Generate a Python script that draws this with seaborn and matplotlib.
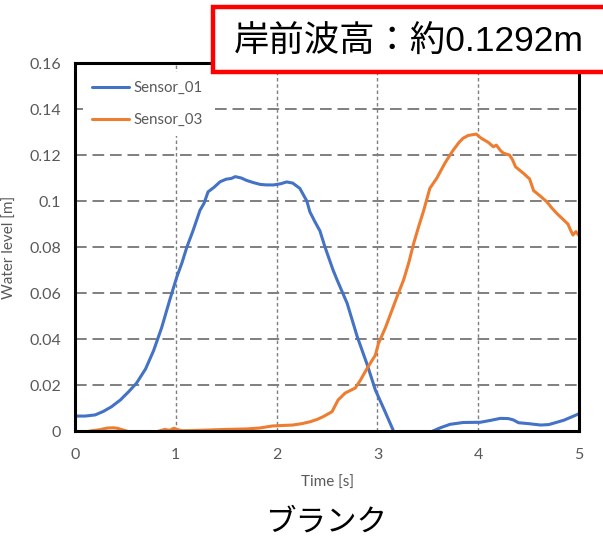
import pandas as pd
import matplotlib
matplotlib.use("Agg")
import matplotlib.pyplot as plt
from matplotlib.patches import Rectangle
import seaborn as sns

# values
t_s01 = [0, 0.1, 0.2, 0.28, 0.36, 0.45, 0.53, 0.61, 0.7, 0.78, 0.86, 0.94, 1.01, 1.06, 1.11,
         1.17, 1.24, 1.28, 1.32, 1.38, 1.44, 1.5, 1.55, 1.59, 1.65, 1.70, 1.77, 1.84, 1.9, 1.97,
         2.04, 2.10, 2.16, 2.23, 2.30, 2.33, 2.38, 2.43, 2.48, 2.56, 2.60, 2.70, 2.80, 2.90, 2.98,
         3.06, 3.16, 3.25, 3.35, 3.45, 3.55, 3.63, 3.72, 3.85, 4.02, 4.12, 4.22, 4.30, 4.35, 4.40,
         4.50, 4.62, 4.70, 4.78, 4.85, 4.92, 5.0]
v_s01 = [0.0065, 0.0065, 0.007, 0.0085, 0.0105, 0.0135, 0.017, 0.0208, 0.027, 0.035, 0.045,
         0.057, 0.067, 0.073, 0.080, 0.087, 0.096, 0.099, 0.104, 0.106, 0.1084, 0.1095, 0.1098,
         0.1106, 0.110, 0.109, 0.108, 0.1072, 0.107, 0.107, 0.1075, 0.1083, 0.1078, 0.1055, 0.100,
         0.0953, 0.091, 0.087, 0.080, 0.070, 0.0657, 0.0555, 0.041, 0.0287, 0.0178, 0.010, 0.0,
         -0.004, -0.006, -0.004, 0.0, 0.0015, 0.0029, 0.0037, 0.0038, 0.0046, 0.0055, 0.0054,
         0.0048, 0.0036, 0.0032, 0.0026, 0.0028, 0.0038, 0.0047, 0.006, 0.0075]

t_s03 = [0, 0.1, 0.15, 0.25, 0.32, 0.38, 0.42, 0.48, 0.55, 0.7, 0.82, 0.89, 0.94, 0.98, 1.02,
         1.06, 1.15, 1.3, 1.5, 1.7, 1.83, 1.96, 2.06, 2.16, 2.25, 2.33, 2.40, 2.46, 2.55, 2.61,
         2.68, 2.78, 2.83, 2.90, 2.98, 3.01, 3.08, 3.14, 3.20, 3.26, 3.31, 3.36, 3.41, 3.46, 3.52,
         3.59, 3.67, 3.75, 3.81, 3.85, 3.90, 3.98, 4.03, 4.10, 4.15, 4.18, 4.22, 4.25, 4.31, 4.34,
         4.37, 4.45, 4.51, 4.55, 4.62, 4.68, 4.73, 4.78, 4.89, 4.92, 4.94, 4.97, 5.0]
v_s03 = [-0.002, -0.0005, 0.0, 0.0006, 0.0013, 0.0014, 0.0012, 0.0004, -0.0005, -0.001, -0.0002,
         0.0007, 0.0003, 0.0012, 0.0006, 0.0001, 0.0002, 0.0004, 0.0007, 0.0009, 0.0013, 0.0022,
         0.0024, 0.0026, 0.0032, 0.004, 0.005, 0.0062, 0.0084, 0.0135, 0.0165, 0.0187, 0.022,
         0.0274, 0.033, 0.038, 0.045, 0.052, 0.059, 0.0657, 0.073, 0.0816, 0.089, 0.096, 0.1055,
         0.110, 0.1165, 0.122, 0.1255, 0.1273, 0.1285, 0.1291, 0.1273, 0.1255, 0.1236, 0.1243,
         0.122, 0.1208, 0.120, 0.118, 0.1149, 0.112, 0.1096, 0.1045, 0.102, 0.0997, 0.097, 0.0946,
         0.090, 0.087, 0.0852, 0.0867, 0.085]

x_ticks = [0, 1, 2, 3, 4, 5]
y_ticks = [0, 0.02, 0.04, 0.06, 0.08, 0.1, 0.12, 0.14, 0.16]
y_tick_labels = ["0", "0.02", "0.04", "0.06", "0.08", "0.1", "0.12", "0.14", "0.16"]

series_names = ["Sensor_01", "Sensor_03"]
series_colors = ["#4472C4", "#ED7D31"]
title_text = "岸前波高：約0.1292m"
caption_text = "ブランク"

sns.set_theme(style="white")
plt.rcParams["font.family"] = ["Lato", "DejaVu Sans"]

df = pd.concat([
    pd.DataFrame({"time": t_s01, "level": v_s01, "sensor": series_names[0]}),
    pd.DataFrame({"time": t_s03, "level": v_s03, "sensor": series_names[1]}),
], ignore_index=True)

fig = plt.figure(figsize=(6.03, 5.41), dpi=100)
ax = fig.add_axes([0.1244, 0.2033, 0.8358, 0.6802])

sns.lineplot(data=df, x="time", y="level", hue="sensor", hue_order=series_names,
             palette=series_colors, estimator=None, sort=False, linewidth=2.2, ax=ax)

ax.set_xlim(0, 5)
ax.set_ylim(0, 0.16)
ax.set_xticks(x_ticks)
ax.set_xticklabels([str(x) for x in x_ticks])
ax.set_yticks(y_ticks)
ax.set_yticklabels(y_tick_labels)
ax.tick_params(axis="both", length=0, labelsize=11.5, labelcolor="#595959")
ax.tick_params(axis="x", pad=12)
ax.tick_params(axis="y", pad=10)

ax.set_xlabel("Time [s]", fontsize=11, color="#595959", labelpad=10)
ax.set_ylabel("Water level [m]", fontsize=11, color="#595959", labelpad=9)

# excel style dashed grid
ax.yaxis.grid(True, color="#7f7f7f", linewidth=1.4, linestyle=(0, (6, 3)))
ax.xaxis.grid(True, color="#7f7f7f", linewidth=1.0, linestyle=(0, (2.5, 2)))
ax.set_axisbelow(True)
for s in ax.spines.values():
    s.set_color("black")
    s.set_linewidth(2.2)
    s.set_visible(True)

handles, labels = ax.get_legend_handles_labels()
leg = ax.legend(handles, labels, loc="upper left", bbox_to_anchor=(0.0, 0.995),
                fontsize=10.8, frameon=True, facecolor="white", edgecolor="none",
                framealpha=1, handlelength=2.5, handletextpad=0.3, labelspacing=1.2,
                borderpad=0.6)
for txt in leg.get_texts():
    txt.set_color("#595959")

# red box with wave height
fig.patches.append(Rectangle((213 / 603, (541 - 72) / 541), 420 / 603, 65 / 541,
                             transform=fig.transFigure, facecolor="white",
                             edgecolor="#FF0000", linewidth=3.2, zorder=5))
fig.text(234 / 603, (541 - 42) / 541, title_text, fontsize=25.5, color="black",
         va="center", ha="left", family=["Liberation Sans", "Noto Sans CJK JP"], zorder=6)

fig.text(326 / 603, (541 - 522) / 541, caption_text, fontsize=22, color="black",
         va="center", ha="center", family=["Noto Sans CJK JP", "DejaVu Sans"])

fig.savefig("out.png", dpi=100)
